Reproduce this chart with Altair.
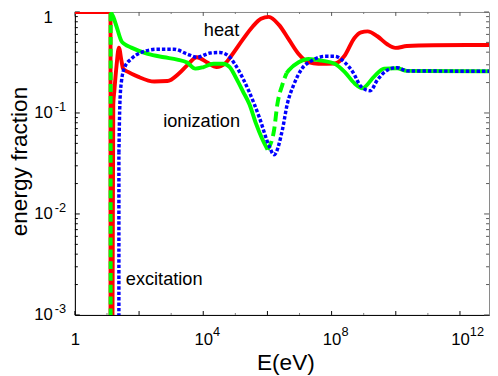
import altair as alt
import pandas as pd

# ---------------- data ----------------
# heat (red, solid)
heat_E = [1, 12.9, 12.9, 14.1, 15.7, 16.9, 19.9, 23.5, 28.2, 31.8,
          45.3, 91.8, 299, 764, 1746, 3141, 6368, 1.29e4, 2.61e4, 4.70e4,
          7.53e4, 1.72e5, 3.49e5, 6.28e5, 1.10e6, 2.29e6, 4.63e6, 9.38e6, 1.90e7, 3.85e7,
          1.25e8, 2.54e8, 5.15e8, 8.26e8, 1.32e9, 2.67e9, 5.41e9, 9.79e9, 2.22e10, 1.47e11,
          8.04e12]
heat_f = [1, 1, 1e-5, 1e-5, 0.122, 0.164, 0.296, 0.444, 0.330, 0.275,
          0.255, 0.229, 0.205, 0.207, 0.246, 0.296, 0.356, 0.318, 0.285, 0.307,
          0.369, 0.535, 0.718, 0.857, 0.895, 0.745, 0.535, 0.384, 0.318, 0.307,
          0.309, 0.369, 0.553, 0.628, 0.643, 0.575, 0.479, 0.441, 0.460, 0.468,
          0.471]
HEAT_SPLIT = 3  # points before this index form the step (drawn straight)

# ionization (green): dashed where the curve is sparse, solid elsewhere
ion_rise_E = [13.0, 13.0]
ion_rise_f = [1e-5, 1.0]
ion_a_E = [13.0, 15.7, 19.9, 28.2, 35.9, 57.3, 186, 605, 1549, 3141,
           5649, 1.02e4, 2.07e4, 4.20e4, 6.68e4, 1.07e5, 1.72e5, 2.75e5, 4.41e5, 6.73e5,
           1.01e6]
ion_a_f = [1.0, 0.895, 0.718, 0.515, 0.479, 0.444, 0.384, 0.356, 0.338, 0.316,
           0.275, 0.285, 0.307, 0.307, 0.285, 0.220, 0.164, 0.122, 0.0784, 0.0562,
           0.0434]
ion_b_E = [1.01e6, 1.61e6, 2.04e6, 2.91e6, 3.94e6]
ion_b_f = [0.0434, 0.0676, 0.122, 0.190, 0.248]
ion_c_E = [3.94e6, 4.63e6, 9.38e6, 1.90e7, 4.90e7, 1.25e8, 2.54e8, 5.15e8, 9.06e8, 2.11e9,
           4.29e9, 1.10e10, 2.22e10, 8.04e12]
ion_c_f = [0.248, 0.265, 0.318, 0.343, 0.330, 0.307, 0.255, 0.197, 0.176, 0.229,
           0.275, 0.277, 0.261, 0.259]

# excitation (blue, dotted)
exc_E = [23.5, 23.5, 25.2, 28.2, 35.9, 57.3, 116, 377, 1227, 3141,
         6368, 1.63e4, 3.30e4, 5.97e4, 9.52e4, 1.72e5, 3.91e5, 5.56e5, 1.13e6, 1.61e6,
         2.91e6, 4.14e6, 6.59e6, 1.19e7, 2.42e7, 6.18e7, 1.25e8, 2.54e8, 4.57e8, 8.26e8,
         1.59e9, 2.67e9, 5.41e9, 1.10e10, 2.22e10, 8.04e12]
exc_f = [1e-5, 0.0403, 0.122, 0.205, 0.285, 0.343, 0.397, 0.428, 0.428, 0.384,
         0.356, 0.392, 0.397, 0.369, 0.307, 0.220, 0.122, 0.0909, 0.0471, 0.0386,
         0.0676, 0.122, 0.190, 0.275, 0.330, 0.364, 0.364, 0.318, 0.255, 0.183,
         0.166, 0.212, 0.265, 0.281, 0.261, 0.259]
EXC_SPLIT = 1

# in-plot labels
label_text = ["heat", "ionization", "excitation"]
label_E = [1.04e4, 565, 38.5]
label_f = [0.584, 0.0728, 0.00196]

# axis ticks / labels (base "10" from the axis, exponents drawn as superscripts)
x_label_values = [1, 1e4, 1e8, 1e12]
x_exp_values = [1e4, 1e8, 1e12]
x_exp_text = ["4", "8", "12"]
x_major = [1, 1e2, 1e4, 1e6, 1e8, 1e10, 1e12]
x_minor = [1e1, 1e3, 1e5, 1e7, 1e9, 1e11]
y_label_values = [1, 0.1, 0.01, 0.001]
y_exp_values = [0.1, 0.01, 0.001]
y_exp_text = ["-1", "-2", "-3"]
y_major = [1, 0.1, 0.01, 0.001]
y_minor = [0.002, 0.003, 0.004, 0.005, 0.006, 0.007, 0.008, 0.009,
           0.02, 0.03, 0.04, 0.05, 0.06, 0.07, 0.08, 0.09,
           0.2, 0.3, 0.4, 0.5, 0.6, 0.7, 0.8, 0.9]

# ---------------- chart ----------------
W, H = 421, 308
FONT = "Liberation Sans"
LBL = 17     # tick label size
EXP = 13     # exponent size


def series(E, f, seg=0):
    return pd.DataFrame({"E": E, "f": f, "i": list(range(len(E))), "seg": seg})


heat_step_df = series(heat_E[:HEAT_SPLIT], heat_f[:HEAT_SPLIT])
heat_curve_df = series(heat_E[HEAT_SPLIT:], heat_f[HEAT_SPLIT:])
ion_solid_df = pd.concat([series(ion_a_E, ion_a_f, 0), series(ion_c_E, ion_c_f, 1)])
ion_rise_df = series(ion_rise_E, ion_rise_f)
ion_dash_df = series(ion_b_E, ion_b_f)
exc_step_df = series(exc_E[:EXC_SPLIT + 1], exc_f[:EXC_SPLIT + 1])
exc_curve_df = series(exc_E[EXC_SPLIT:], exc_f[EXC_SPLIT:])
lab_df = pd.DataFrame({"E": label_E, "f": label_f, "label": label_text})
xexp_df = pd.DataFrame({"v": x_exp_values, "t": x_exp_text})
yexp_df = pd.DataFrame({"v": y_exp_values, "t": y_exp_text})

xscale = alt.Scale(type="log", domain=[1, 8.04e12], nice=False)
yscale = alt.Scale(type="log", domain=[1e-3, 1], nice=False)

x_axis = alt.Axis(
    values=x_label_values,
    labelExpr="datum.value < 2 ? '1' : '10'",
    ticks=False, tickSize=0, grid=False,
    domain=True, domainColor="black", domainWidth=1,
    labelFont=FONT, labelFontSize=LBL, labelColor="black",
    labelBaseline="alphabetic", labelPadding=30, labelAlign="center",
    labelFlush=False, labelOverlap=False,
    title="E(eV)", titleFont=FONT, titleFontSize=23, titleFontWeight="normal",
    titleColor="black", titleX=214, titleY=55.5, titleAlign="center",
    titleBaseline="alphabetic",
)
y_axis = alt.Axis(
    values=y_label_values,
    labelExpr="datum.value > 0.5 ? '1' : '10'",
    ticks=False, tickSize=0, grid=False,
    domain=True, domainColor="black", domainWidth=1,
    labelFont=FONT, labelFontSize=LBL, labelColor="black",
    labelAlign="right", labelBaseline="middle", labelPadding=23,
    labelOffset={"condition": {"test": "datum.value > 0.5", "value": 6}, "value": 0},
    labelFlush=False, labelOverlap=False,
    title="energy fraction", titleFont=FONT, titleFontSize=23, titleFontWeight="normal",
    titleColor="black", titleX=-49, titleY=151.5, titleAngle=270,
    titleAlign="center", titleBaseline="alphabetic",
)


def xt(field="v"):
    return alt.X(f"{field}:Q", scale=xscale, axis=x_axis, title="E(eV)")


def yt(field="v"):
    return alt.Y(f"{field}:Q", scale=yscale, axis=y_axis, title="energy fraction")


def vdf(vals):
    return pd.DataFrame({"v": vals})


# inward tick marks on all four sides
tick_layers = [
    alt.Chart(vdf(y_major)).mark_rule(color="black", strokeWidth=1).encode(
        y=yt(), x=alt.value(0), x2=alt.value(5)),
    alt.Chart(vdf(y_minor)).mark_rule(color="black", strokeWidth=1).encode(
        y=yt(), x=alt.value(0), x2=alt.value(3)),
    alt.Chart(vdf(y_major)).mark_rule(color="#555555", strokeWidth=1).encode(
        y=yt(), x=alt.value(W), x2=alt.value(W - 5)),
    alt.Chart(vdf(y_minor)).mark_rule(color="#555555", strokeWidth=1).encode(
        y=yt(), x=alt.value(W), x2=alt.value(W - 3)),
    alt.Chart(vdf(x_major)).mark_rule(color="black", strokeWidth=1).encode(
        x=xt(), y=alt.value(H), y2=alt.value(H - 4)),
    alt.Chart(vdf(x_minor)).mark_rule(color="#777777", strokeWidth=1).encode(
        x=xt(), y=alt.value(H), y2=alt.value(H - 2)),
    alt.Chart(vdf(x_major)).mark_rule(color="#555555", strokeWidth=1).encode(
        x=xt(), y=alt.value(0), y2=alt.value(4)),
    alt.Chart(vdf(x_minor)).mark_rule(color="#777777", strokeWidth=1).encode(
        x=xt(), y=alt.value(0), y2=alt.value(2)),
]

# exponents of the tick labels
exp_layers = [
    alt.Chart(xexp_df).mark_text(
        align="left", baseline="alphabetic", font=FONT, fontSize=EXP,
        color="black", dx=10
    ).encode(x=xt(), y=alt.value(H + 21), text="t:N"),
    alt.Chart(yexp_df).mark_text(
        align="right", baseline="alphabetic", font=FONT, fontSize=EXP,
        color="black", dy=-2
    ).encode(y=yt(), x=alt.value(-9), text="t:N"),
]


def line(df, color, width, interp, dash=None, detail=False):
    kw = dict(color=color, strokeWidth=width, clip=True, strokeJoin="round",
              interpolate=interp)
    if dash:
        kw["strokeDash"] = dash
    enc = dict(x=xt("E"), y=yt("f"), order=alt.Order("i:Q"))
    if detail:
        enc["detail"] = "seg:N"
    return alt.Chart(df).mark_line(**kw).encode(**enc)


RED, GREEN, BLUE = "#ff0000", "#00ff00", "#0000ff"
heat_step = line(heat_step_df, RED, 4, "linear")
heat_curve = line(heat_curve_df, RED, 4, "monotone")
ion_solid = line(ion_solid_df, GREEN, 4, "monotone", detail=True)
ion_rise = line(ion_rise_df, GREEN, 4, "linear", dash=[8, 4])
ion_dash = line(ion_dash_df, GREEN, 4, "monotone", dash=[10, 5])
exc_step = line(exc_step_df, BLUE, 3.5, "linear", dash=[3.5, 2])
exc_curve = line(exc_curve_df, BLUE, 3.5, "monotone", dash=[3.5, 2])

labels = alt.Chart(lab_df).mark_text(
    align="left", baseline="alphabetic", font=FONT, fontSize=18.5, color="black"
).encode(x=xt("E"), y=yt("f"), text="label:N")

chart = alt.layer(
    *tick_layers, *exp_layers, heat_step, heat_curve, ion_solid, ion_rise, ion_dash,
    exc_step, exc_curve, labels
).properties(
    width=W, height=H,
    autosize=alt.AutoSizeParams(type="none"),
    padding={"left": 68, "top": 1, "right": 1, "bottom": 59},
    background="white",
).configure_view(stroke="#888888", strokeWidth=1)

chart.save("out.html", embed_options={"renderer": "svg", "actions": False})
